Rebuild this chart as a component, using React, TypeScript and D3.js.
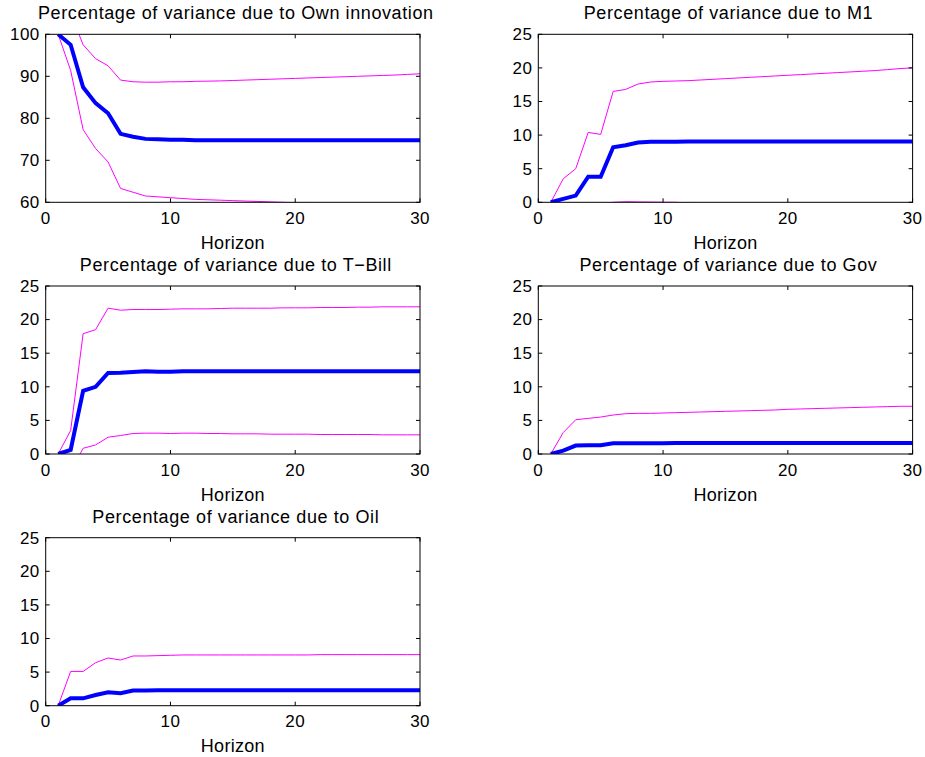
import React from "react";
import * as d3 from "d3";

const horizons: number[] = d3.range(1, 31);
const xTicks: number[] = [0, 10, 20, 30];
const yTicksOwn: number[] = [60, 70, 80, 90, 100];
const yTicksShare: number[] = [0, 5, 10, 15, 20, 25];

const titles: string[] = [
  "Percentage of variance due to Own innovation",
  "Percentage of variance due to M1",
  "Percentage of variance due to T\u2212Bill",
  "Percentage of variance due to Gov",
  "Percentage of variance due to Oil",
];
const xLabel = "Horizon";

// Own innovation
const ownMean: number[] = [100, 97.5, 87.4, 83.6, 81.2, 76.3, 75.6, 75.1, 75.0, 74.9, 74.9, 74.8, 74.8, 74.8, 74.8, 74.8, 74.8, 74.8, 74.8, 74.8, 74.8, 74.8, 74.8, 74.8, 74.8, 74.8, 74.8, 74.8, 74.8, 74.8];
const ownUpper: number[] = [100, 105, 97.5, 94.2, 92.5, 89.1, 88.7, 88.6, 88.6, 88.7, 88.7, 88.8, 88.85, 88.9, 89.0, 89.1, 89.2, 89.3, 89.4, 89.5, 89.6, 89.7, 89.8, 89.9, 90.0, 90.1, 90.2, 90.3, 90.45, 90.6];
const ownLower: number[] = [100, 91.4, 77.3, 72.8, 69.6, 63.3, 62.4, 61.5, 61.3, 61.1, 60.9, 60.7, 60.6, 60.5, 60.4, 60.3, 60.2, 60.1, 60.0, 59.9, 59.8, 59.7, 59.6, 59.5, 59.4, 59.3, 59.2, 59.1, 59.0, 58.9];

// M1
const m1Mean: number[] = [0, 0.5, 1.0, 3.8, 3.8, 8.2, 8.5, 8.9, 9.0, 9.0, 9.0, 9.05, 9.05, 9.05, 9.05, 9.05, 9.05, 9.05, 9.05, 9.05, 9.05, 9.05, 9.05, 9.05, 9.05, 9.05, 9.05, 9.05, 9.05, 9.05];
const m1Upper: number[] = [0, 3.5, 5.0, 10.4, 10.1, 16.5, 16.8, 17.6, 17.9, 18.0, 18.05, 18.1, 18.2, 18.3, 18.4, 18.5, 18.6, 18.7, 18.8, 18.9, 19.0, 19.1, 19.2, 19.3, 19.4, 19.5, 19.6, 19.75, 19.9, 20.0];
const m1Lower: number[] = [0, -0.4, -0.6, -0.5, -0.3, 0.0, 0.08, 0.05, 0.03, 0.01, 0.0, -0.1, -0.2, -0.3, -0.4, -0.5, -0.6, -0.7, -0.8, -0.9, -1.0, -1.1, -1.2, -1.3, -1.4, -1.5, -1.6, -1.7, -1.8, -1.9];

// T-Bill
const tbMean: number[] = [0, 0.6, 9.4, 10.0, 12.05, 12.1, 12.2, 12.3, 12.25, 12.25, 12.3, 12.3, 12.3, 12.3, 12.3, 12.3, 12.3, 12.3, 12.3, 12.3, 12.3, 12.3, 12.3, 12.3, 12.3, 12.3, 12.3, 12.3, 12.3, 12.3];
const tbUpper: number[] = [0, 3.5, 17.9, 18.5, 21.7, 21.4, 21.5, 21.5, 21.5, 21.55, 21.6, 21.6, 21.6, 21.65, 21.7, 21.7, 21.7, 21.7, 21.75, 21.75, 21.75, 21.8, 21.8, 21.8, 21.85, 21.85, 21.9, 21.9, 21.9, 21.9];
const tbLower: number[] = [0, -2.55, 0.85, 1.35, 2.5, 2.75, 3.05, 3.1, 3.1, 3.05, 3.1, 3.1, 3.05, 3.05, 3.0, 3.0, 3.0, 2.95, 2.95, 2.95, 2.95, 2.9, 2.9, 2.9, 2.9, 2.9, 2.85, 2.85, 2.85, 2.85];

// Gov
const govMean: number[] = [0, 0.5, 1.25, 1.3, 1.3, 1.6, 1.6, 1.6, 1.6, 1.6, 1.65, 1.65, 1.65, 1.65, 1.65, 1.65, 1.65, 1.65, 1.65, 1.65, 1.65, 1.65, 1.65, 1.65, 1.65, 1.65, 1.65, 1.65, 1.65, 1.65];
const govUpper: number[] = [0, 3.2, 5.1, 5.3, 5.5, 5.8, 6.0, 6.05, 6.05, 6.1, 6.15, 6.2, 6.25, 6.3, 6.35, 6.4, 6.45, 6.5, 6.55, 6.65, 6.7, 6.75, 6.8, 6.85, 6.9, 6.95, 7.0, 7.05, 7.1, 7.1];
const govLower: number[] = [0, -0.6, -0.9, -1.0, -1.1, -1.0, -1.0, -1.05, -1.1, -1.1, -1.15, -1.2, -1.2, -1.25, -1.3, -1.3, -1.35, -1.4, -1.4, -1.45, -1.5, -1.5, -1.55, -1.6, -1.6, -1.65, -1.7, -1.7, -1.75, -1.8];

// Oil
const oilMean: number[] = [0, 1.1, 1.1, 1.6, 2.0, 1.85, 2.25, 2.25, 2.3, 2.3, 2.3, 2.3, 2.3, 2.3, 2.3, 2.3, 2.3, 2.3, 2.3, 2.3, 2.3, 2.3, 2.3, 2.3, 2.3, 2.3, 2.3, 2.3, 2.3, 2.3];
const oilUpper: number[] = [0, 5.1, 5.1, 6.4, 7.1, 6.8, 7.4, 7.4, 7.45, 7.5, 7.55, 7.55, 7.55, 7.55, 7.55, 7.55, 7.55, 7.55, 7.55, 7.55, 7.55, 7.6, 7.6, 7.6, 7.6, 7.6, 7.6, 7.6, 7.6, 7.6];
const oilLower: number[] = [0, -1.2, -1.5, -1.4, -1.3, -1.4, -1.3, -1.3, -1.35, -1.4, -1.4, -1.45, -1.5, -1.5, -1.55, -1.6, -1.6, -1.65, -1.7, -1.7, -1.75, -1.8, -1.8, -1.85, -1.9, -1.9, -1.95, -2.0, -2.0, -2.05];

const panelSeries = [
  { mean: ownMean, upper: ownUpper, lower: ownLower, yDomain: [60, 100], yTicks: yTicksOwn },
  { mean: m1Mean, upper: m1Upper, lower: m1Lower, yDomain: [0, 25], yTicks: yTicksShare },
  { mean: tbMean, upper: tbUpper, lower: tbLower, yDomain: [0, 25], yTicks: yTicksShare },
  { mean: govMean, upper: govUpper, lower: govLower, yDomain: [0, 25], yTicks: yTicksShare },
  { mean: oilMean, upper: oilUpper, lower: oilLower, yDomain: [0, 25], yTicks: yTicksShare },
];

const W = 925;
const H = 757;
const colLeft = [45.7, 538.3];
const rowTop = [34.3, 286, 537.7];
const axW = 374.3;
const axH = 168;
const FONT = "'Liberation Sans', Arial, Helvetica, sans-serif";
const TICK = 4;

function Panel({ idx }: { idx: number }) {
  const p = panelSeries[idx];
  const left = colLeft[idx % 2];
  const top = rowTop[Math.floor(idx / 2)];
  const x = d3.scaleLinear().domain([0, 30]).range([left, left + axW]);
  const y = d3.scaleLinear().domain(p.yDomain).range([top + axH, top]);
  const line = d3
    .line<number>()
    .x((_, i) => x(horizons[i]))
    .y((d) => y(d));
  const clipId = `clip${idx}`;
  const bottom = top + axH;
  const right = left + axW;
  return (
    <g>
      <defs>
        <clipPath id={clipId}>
          <rect x={left} y={top} width={axW} height={axH} />
        </clipPath>
      </defs>
      <rect x={left} y={top} width={axW} height={axH} fill="#fff" />
      <g clipPath={`url(#${clipId})`} fill="none" strokeLinejoin="miter">
        <path d={line(p.upper) || ""} stroke="#ff00ff" strokeWidth={1} />
        <path d={line(p.lower) || ""} stroke="#ff00ff" strokeWidth={1} />
        <path d={line(p.mean) || ""} stroke="#0000ff" strokeWidth={4} />
      </g>
      <rect x={left} y={top} width={axW} height={axH} fill="none" stroke="#000" strokeWidth={1} />
      {xTicks.map((t) => (
        <g key={`x${t}`}>
          <line x1={x(t)} x2={x(t)} y1={bottom} y2={bottom - TICK} stroke="#000" />
          <line x1={x(t)} x2={x(t)} y1={top} y2={top + TICK} stroke="#000" />
          <text x={x(t)} y={bottom + 21.5} textAnchor="middle" fontSize={17} letterSpacing={0.4} fontFamily={FONT} fill="#000">
            {t}
          </text>
        </g>
      ))}
      {p.yTicks.map((t) => (
        <g key={`y${t}`}>
          <line x1={left} x2={left + TICK} y1={y(t)} y2={y(t)} stroke="#000" />
          <line x1={right} x2={right - TICK} y1={y(t)} y2={y(t)} stroke="#000" />
          <text x={left - 6} y={y(t) + 5.8} textAnchor="end" fontSize={17} letterSpacing={0.4} fontFamily={FONT} fill="#000">
            {t}
          </text>
        </g>
      ))}
      <text x={(left + right) / 2 + 3} y={top - 15} textAnchor="middle" fontSize={18} letterSpacing={0.6} fontFamily={FONT} fill="#000">
        {titles[idx]}
      </text>
      <text x={(left + right) / 2} y={bottom + 46.5} textAnchor="middle" fontSize={18} letterSpacing={0.3} fontFamily={FONT} fill="#000">
        {xLabel}
      </text>
    </g>
  );
}

export default function App() {
  return (
    <svg
      width={W}
      height={H}
      viewBox={`0 0 ${W} ${H}`}
      style={{ position: "absolute", left: 0, top: 0, background: "#fff" }}
    >
      <rect x={0} y={0} width={W} height={H} fill="#fff" />
      {panelSeries.map((_, i) => (
        <Panel key={i} idx={i} />
      ))}
    </svg>
  );
}
